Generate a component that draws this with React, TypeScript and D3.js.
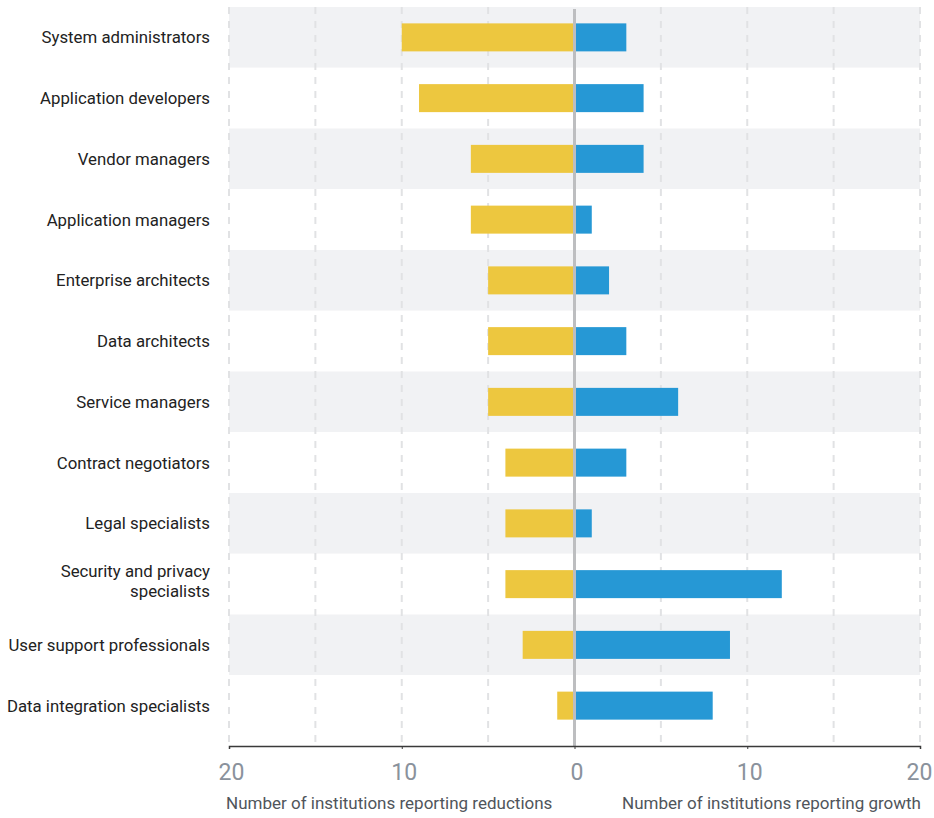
import * as d3 from 'd3'
import { useEffect, useRef } from 'react'

const roles = [
  'System administrators',
  'Application developers',
  'Vendor managers',
  'Application managers',
  'Enterprise architects',
  'Data architects',
  'Service managers',
  'Contract negotiators',
  'Legal specialists',
  'Security and privacy specialists',
  'User support professionals',
  'Data integration specialists',
]
const reductions = [10, 9, 6, 6, 5, 5, 5, 4, 4, 4, 3, 1]
const growth = [3, 4, 4, 1, 2, 3, 6, 3, 1, 12, 9, 8]
const tickValues = [-20, -10, 0, 10, 20]
const gridValues = [-20, -15, -10, -5, 5, 10, 15, 20]

const labelLines: Record<string, string[]> = {
  'Security and privacy specialists': ['Security and privacy', 'specialists'],
}

export default function App() {
  const ref = useRef<SVGSVGElement>(null)

  useEffect(() => {
    document.body.style.margin = '0'
    if (!ref.current) return
    const svg = d3.select(ref.current)
    svg.selectAll('*').remove()

    const width = 934
    const height = 818
    const font = 'Roboto, "DejaVu Sans", sans-serif'
    svg.attr('width', width).attr('height', height)

    const x = d3.scaleLinear().domain([-20, 20]).range([229, 920])
    const y = d3.scaleBand<string>().domain(roles).range([7, 736])
    const axisY = 746

    // Alternating row bands
    svg
      .selectAll('rect.band')
      .data(roles)
      .enter()
      .append('rect')
      .attr('class', 'band')
      .attr('x', x(-20))
      .attr('y', d => y(d)!)
      .attr('width', x(20) - x(-20))
      .attr('height', y.bandwidth())
      .attr('fill', (_, i) => (i % 2 === 0 ? '#f1f2f4' : '#ffffff'))

    // Dashed grid
    svg
      .selectAll('line.grid')
      .data(gridValues)
      .enter()
      .append('line')
      .attr('class', 'grid')
      .attr('x1', d => x(d))
      .attr('x2', d => x(d))
      .attr('y1', 7)
      .attr('y2', axisY)
      .attr('stroke', '#e1e2e4')
      .attr('stroke-width', 2)
      .attr('stroke-dasharray', '7,7')

    const barH = 28
    const off = (y.bandwidth() - barH) / 2

    // Reductions (left)
    svg
      .selectAll('rect.red')
      .data(roles)
      .enter()
      .append('rect')
      .attr('class', 'red')
      .attr('x', (_, i) => x(-reductions[i]))
      .attr('y', d => y(d)! + off)
      .attr('width', (_, i) => x(0) - x(-reductions[i]))
      .attr('height', barH)
      .attr('fill', '#edc73f')

    // Growth (right)
    svg
      .selectAll('rect.grow')
      .data(roles)
      .enter()
      .append('rect')
      .attr('class', 'grow')
      .attr('x', x(0))
      .attr('y', d => y(d)! + off)
      .attr('width', (_, i) => x(growth[i]) - x(0))
      .attr('height', barH)
      .attr('fill', '#2698d5')

    // Zero line
    svg
      .append('line')
      .attr('x1', x(0))
      .attr('x2', x(0))
      .attr('y1', 9)
      .attr('y2', axisY)
      .attr('stroke', '#bdbec0')
      .attr('stroke-width', 3)

    // X axis
    const axis = svg
      .append('g')
      .attr('transform', `translate(0,${axisY})`)
      .call(
        d3
          .axisBottom(x)
          .tickValues(tickValues)
          .tickSize(3)
          .tickFormat(d => String(Math.abs(+d)))
      )
    axis.select('.domain').attr('stroke', '#3a3a3a').attr('stroke-width', 1.5)
    axis.selectAll('.tick line').attr('stroke', '#3a3a3a')
    axis
      .selectAll('.tick text')
      .attr('y', 34)
      .attr('dy', 0)
      .attr('dx', (d: any) => (+d === 20 ? -1 : 2))
      .style('font-family', font)
      .style('font-size', '23px')
      .attr('fill', '#8a929c')

    // Axis titles
    svg
      .append('text')
      .attr('x', 226)
      .attr('y', 809)
      .style('font-family', font)
      .style('font-size', '17px')
      .attr('fill', '#50555b')
      .text('Number of institutions reporting reductions')
    svg
      .append('text')
      .attr('x', 921)
      .attr('y', 809)
      .attr('text-anchor', 'end')
      .style('font-family', font)
      .style('font-size', '17px')
      .attr('fill', '#50555b')
      .text('Number of institutions reporting growth')

    // Category labels
    const labels = svg
      .selectAll('text.cat')
      .data(roles)
      .enter()
      .append('text')
      .attr('class', 'cat')
      .attr('text-anchor', 'end')
      .style('font-family', font)
      .style('font-size', '16.8px')
      .attr('fill', '#222')
    labels.each(function (d) {
      const lines = labelLines[d] || [d]
      const cy = y(d)! + y.bandwidth() / 2 - (lines.length > 1 ? 3 : 0)
      const lh = 19.5
      const start = cy - ((lines.length - 1) * lh) / 2
      lines.forEach((l, k) => {
        d3.select(this)
          .append('tspan')
          .attr('x', 210)
          .attr('y', start + k * lh)
          .attr('dy', '0.35em')
          .text(l)
      })
    })
  }, [])

  return <svg ref={ref} style={{ display: 'block' }}></svg>
}
